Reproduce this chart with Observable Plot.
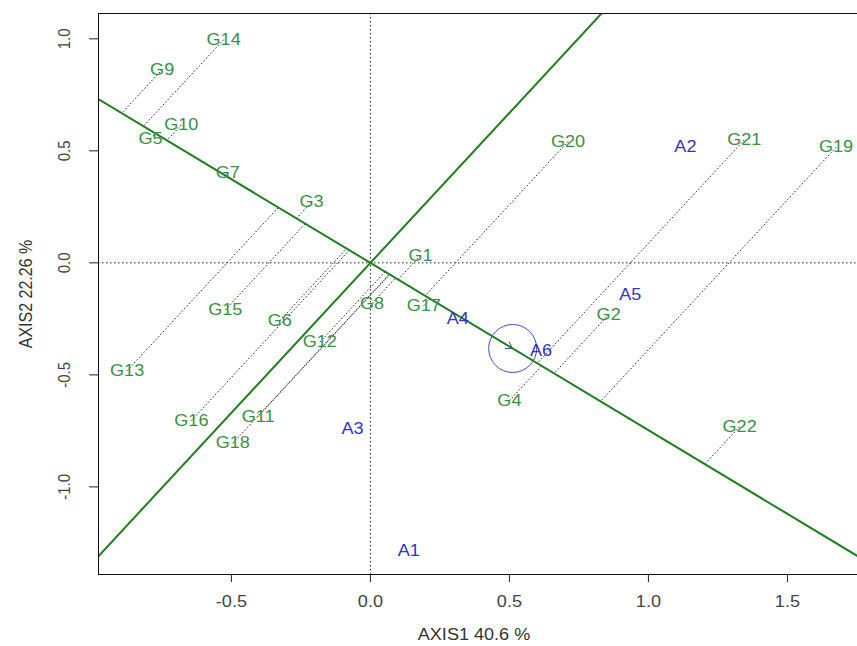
<!DOCTYPE html>
<html><head><meta charset="utf-8">
<script src="https://cdn.jsdelivr.net/npm/d3@7"></script>
<script src="https://cdn.jsdelivr.net/npm/@observablehq/plot@0.6"></script>
<style>body{margin:0;background:#fff} #chart svg{display:block}</style>
</head><body><div id="chart"></div>
<script>
const genotypes = ["G1","G2","G3","G4","G5","G6","G7","G8","G9","G10","G11","G12","G13","G14","G15","G16","G17","G18","G19","G20","G21","G22"];
const genoX = [0.180, 0.857, -0.212, 0.500, -0.791, -0.326, -0.513, 0.006, -0.749, -0.680, -0.404, -0.182, -0.875, -0.528, -0.522, -0.644, 0.192, -0.495, 1.675, 0.711, 1.345, 1.328];
const genoY = [0.033, -0.231, 0.271, -0.615, 0.554, -0.258, 0.402, -0.181, 0.863, 0.616, -0.686, -0.354, -0.481, 0.996, -0.210, -0.704, -0.191, -0.805, 0.516, 0.542, 0.549, -0.731];
const environments = ["A1","A2","A3","A4","A5","A6"];
const envX = [0.138, 1.133, -0.064, 0.314, 0.935, 0.614];
const envY = [-1.284, 0.516, -0.741, -0.250, -0.142, -0.392];
const xTicks = [-0.5, 0, 0.5, 1, 1.5];
const yTicks = [-1, -0.5, 0, 0.5, 1];
const xTitle = "AXIS1 40.6 %";
const yTitle = "AXIS2 22.26 %";
const xDomain = [-0.978, 1.752];
const yDomain = [-1.391, 1.113];

const meanX = d3.mean(envX), meanY = d3.mean(envY);
const norm = Math.hypot(meanX, meanY);
const ux = meanX / norm, uy = meanY / norm;
const geno = genotypes.map((g, i) => {
  const x = genoX[i], y = genoY[i];
  const t = x * ux + y * uy;
  return {g, x, y, px: t * ux, py: t * uy};
});
const env = environments.map((e, i) => ({e, x: envX[i], y: envY[i]}));
const ext = [-10, 10];
const atcAbs = ext.map(k => ({x: k * ux, y: k * uy}));
const atcOrd = ext.map(k => ({x: -k * uy, y: k * ux}));
const fmt = d => d.toFixed(1);
const dotted = {stroke: "#222", strokeDasharray: "1.5,2.5", strokeWidth: 1};

const chart = Plot.plot({
  width: 857, height: 646,
  marginLeft: 98, marginTop: 13, marginRight: 0, marginBottom: 72,
  x: {domain: xDomain},
  y: {domain: yDomain},
  style: {fontFamily: "'Liberation Sans', Arial, sans-serif", background: "#fff", color: "#222"},
  marks: [
    Plot.ruleX([0], dotted),
    Plot.ruleY([0], dotted),
    Plot.link(geno, {x1: "x", y1: "y", x2: "px", y2: "py", stroke: "#222", strokeDasharray: "1.5,2", strokeWidth: 1}),
    Plot.arrow([{x1: 0, y1: 0, x2: meanX, y2: meanY}], {x1: "x1", y1: "y1", x2: "x2", y2: "y2", stroke: "#3a3ab8", strokeWidth: 1, headLength: 11}),
    Plot.dot([{x: meanX, y: meanY}], {x: "x", y: "y", r: 24, stroke: "#4848b8", fill: "none", strokeWidth: 1}),
    Plot.line(atcAbs, {x: "x", y: "y", stroke: "#1f7f1f", strokeWidth: 2, clip: true}),
    Plot.line(atcOrd, {x: "x", y: "y", stroke: "#1f7f1f", strokeWidth: 2, clip: true}),
    Plot.text(geno, {x: "x", y: "y", text: "g", fill: "#3b8f47", fontSize: 16, textAnchor: "middle", lineAnchor: "middle"}),
    Plot.text(env, {x: "x", y: "y", text: "e", fill: "#3434c0", fontSize: 16, textAnchor: "middle", lineAnchor: "middle"}),
    Plot.ruleX([xDomain[0]], {stroke: "#111"}),
    Plot.ruleY(yDomain, {stroke: "#111"}),
    Plot.axisX({ticks: xTicks, tickFormat: fmt, tickSize: 8, tickPadding: 13, fontSize: 16, label: null, fill: "#444"}),
    Plot.axisY({ticks: yTicks, tickFormat: fmt, tickRotate: -90, tickSize: 9, tickPadding: 20, fontSize: 15, label: null, fill: "#444"}),
    Plot.text([xTitle], {text: d => d, frameAnchor: "bottom", dx: -4, dy: 60, fontSize: 16, textAnchor: "middle", lineAnchor: "middle", fill: "#333"}),
    Plot.text([yTitle], {text: d => d, frameAnchor: "left", rotate: -90, dx: -72, dy: 0, fontSize: 16, textAnchor: "middle", lineAnchor: "middle", fill: "#333"})
  ]
});
document.getElementById("chart").appendChild(chart);

// the reference glyphs are stretched horizontally; widen each text about its own centre
const stretchX = 1.13;
chart.querySelectorAll("text").forEach(t => {
  try {
    const bb = t.getBBox();
    const cx = bb.x + bb.width / 2, cy = bb.y + bb.height / 2;
    let px = cx;
    const tl = t.transform && t.transform.baseVal;
    const m = tl && tl.numberOfItems ? tl.consolidate() : null;
    if (m) { const M = m.matrix; px = M.a * cx + M.c * cy + M.e; }
    const old = t.getAttribute("transform") || "";
    t.setAttribute("transform", `translate(${px},0) scale(${stretchX},1) translate(${-px},0) ${old}`);
  } catch (e) {}
});
</script>
</body></html>
